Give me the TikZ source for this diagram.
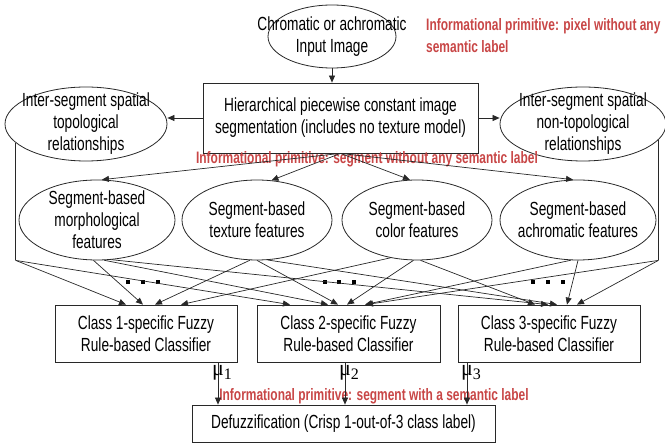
\documentclass[tikz,border=0pt]{standalone}
\usepackage{fontspec}
\setmainfont{Liberation Sans}[FakeStretch=0.72]
\newfontfamily\mufont{Liberation Serif}
\usetikzlibrary{arrows.meta,shapes.geometric}
\definecolor{redtxt}{RGB}{200,70,70}
\definecolor{lncol}{RGB}{40,40,40}
\begin{document}
\begin{tikzpicture}[x=1pt,y=-1pt,
  every node/.style={font=\fontsize{19}{22}\selectfont, text=black},
  ell/.style={ellipse, draw=lncol, line width=0.8pt, inner sep=0pt},
  box/.style={rectangle, draw=lncol, line width=0.8pt, inner sep=0pt, align=center},
  note/.style={font=\fontsize{16.6}{22}\bfseries\selectfont, text=redtxt, align=left, inner sep=0pt},
  arr/.style={draw=lncol, line width=0.7pt, -{Triangle[length=7pt,width=6pt]}},
  wire/.style={draw=lncol, line width=0.7pt},
  dotsq/.style={fill=black, minimum size=4.5pt, inner sep=0pt, rectangle},
  mulab/.style={font=\mufont\fontsize{22}{22}\selectfont, inner sep=0pt, anchor=west}
]
\useasboundingbox (0,0) rectangle (665,446);

% top
\node[ell, minimum width=128, minimum height=63,
  label={[align=center]center:Chromatic or achromatic\\Input Image}] (inp) at (332,36.5) {};
\node[note, anchor=north west] (n1) at (426,18) {Informational primitive: pixel without any\\semantic label};

\node[box, minimum width=275, minimum height=70] (hier) at (340.5,118)
  {Hierarchical piecewise constant image\\segmentation (includes no texture model)};
\node[ell, minimum width=162, minimum height=74,
  label={[align=center]center:Inter-segment spatial\\topological\\relationships}] (lt) at (86,124) {};
\node[ell, minimum width=166, minimum height=74,
  label={[align=center]center:Inter-segment spatial\\non-topological\\relationships}] (rt) at (583,124) {};
\node[note, anchor=north] (n2) at (367,151) {Informational primitive: segment without any semantic label};

% features
\node[ell, minimum width=156, minimum height=80,
  label={[align=center]center:Segment-based\\morphological\\features}] (f1) at (97,220) {};
\node[ell, minimum width=150, minimum height=80,
  label={[align=center]center:Segment-based\\texture features}] (f2) at (257,220) {};
\node[ell, minimum width=150, minimum height=80,
  label={[align=center]center:Segment-based\\color features}] (f3) at (417,220) {};
\node[ell, minimum width=156, minimum height=80,
  label={[align=center]center:Segment-based\\achromatic features}] (f4) at (578,220) {};

% classifiers
\node[box, minimum width=182, minimum height=57] (b1) at (146,333.5) {Class 1-specific Fuzzy\\Rule-based Classifier};
\node[box, minimum width=183, minimum height=57] (b2) at (348.5,333.5) {Class 2-specific Fuzzy\\Rule-based Classifier};
\node[box, minimum width=182, minimum height=57] (b3) at (549,333.5) {Class 3-specific Fuzzy\\Rule-based Classifier};

\node[box, minimum width=303, minimum height=37] (def) at (343.5,423.5) {Defuzzification (Crisp 1-out-of-3 class label)};
\node[note, anchor=north] (n3) at (374,388) {Informational primitive: segment with a semantic label};

% dots
\foreach \x [count=\i] in {128,143,158,325,339,354,533,548,563} {
  \node[dotsq] (d\i) at (\x,282) {};
}

% top connectors
\draw[arr] (inp.south) -- (inp.south |- hier.north);
\draw[arr] (hier.west) -- (hier.west -| lt.east);
\draw[arr] (hier.east) -- (hier.east -| rt.west);
\draw[arr] (hier.south) -- (f1.83);
\draw[arr] (hier.south) -- (f2.70);
\draw[arr] (hier.south) -- (f3.100);
\draw[arr] (hier.south) -- (f4.97);

% side verticals
\draw[wire] (lt.195.7) -- (lt.195.7 |- f1.south) coordinate (lb);
\draw[wire] (rt.-12.8) -- (rt.-12.8 |- f4.south) coordinate (rb);

% to classifier 1
\draw[arr] (lb) -- ([xshift=-20pt]b1.north);
\draw[arr] (f1.-95) -- ([xshift=-3pt]b1.north);
\draw[arr] (f2.-100) -- ([xshift=9pt]b1.north);
\draw[arr] (f3.-125) -- ([xshift=35pt]b1.north);
% to classifier 2
\draw[arr] (lb) -- ([xshift=-58.5pt]b2.north);
\draw[arr] (f1.-80) -- ([xshift=-20.5pt]b2.north);
\draw[arr] (f2.-90) -- ([xshift=-10.5pt]b2.north);
\draw[arr] (f3.-95) -- ([xshift=-1.5pt]b2.north);
\draw[arr] (f4.-100) -- ([xshift=16.5pt]b2.north);
\draw[arr] (rb) -- ([xshift=17.5pt]b2.north);
% to classifier 3
\draw[arr] (f3.-85) -- ([xshift=-14pt]b3.north);
\draw[arr] (f1.-70) -- ([xshift=-1pt]b3.north);
\draw[arr] (f2.-75) -- ([xshift=8pt]b3.north);
\draw[arr] (f4.-90) -- ([xshift=18pt]b3.north);
\draw[arr] (rb) -- ([xshift=28pt]b3.north);

% to defuzzification
\draw[arr] ([xshift=72pt]b1.south) -- ([xshift=72pt]b1.south |- def.north);
\draw[arr] ([xshift=-3.5pt]b2.south) -- ([xshift=-3.5pt]b2.south |- def.north);
\draw[arr] ([xshift=-82pt]b3.south) -- ([xshift=-82pt]b3.south |- def.north);

\node[mulab] (mu1) at (212,373) {μ\raisebox{-4pt}{\fontsize{16}{16}\selectfont 1}};
\node[mulab] (mu2) at (339,373) {μ\raisebox{-4pt}{\fontsize{16}{16}\selectfont 2}};
\node[mulab] (mu3) at (461,373) {μ\raisebox{-4pt}{\fontsize{16}{16}\selectfont 3}};
\end{tikzpicture}
\end{document}
